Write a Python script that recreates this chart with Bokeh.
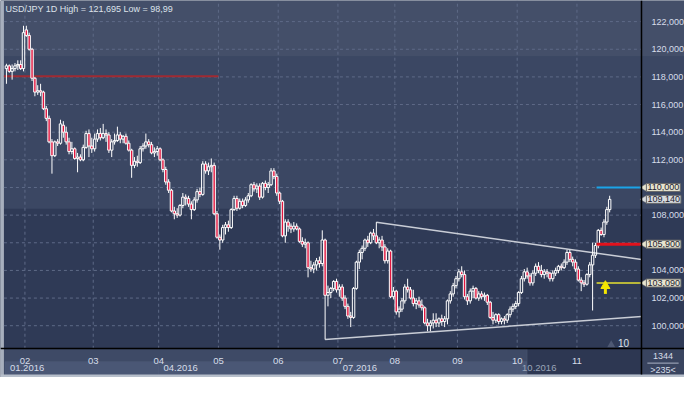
import numpy as np
from bokeh.plotting import figure
from bokeh.models import Range1d, FixedTicker, BoxAnnotation, Label, ColumnDataSource
from bokeh.embed import file_html
from bokeh.resources import INLINE

title_text = "USD/JPY 1D High = 121,695 Low = 98,99"

open_ = [118.6, 118.8, 118.4, 118.6, 118.8, 118.9, 118.6, 121.4, 121.0, 120.0,
         117.9, 116.9, 117.0, 116.9, 115.7, 115.0, 113.3, 112.3, 113.3, 113.2,
         114.5, 114.0, 113.3, 112.6, 112.8, 112.1, 112.2, 112.0, 112.9, 113.9,
         113.0, 112.8, 113.5, 113.9, 113.6, 113.9, 113.8, 112.7, 113.3, 113.4,
         113.8, 113.5, 113.7, 113.2, 112.7, 111.6, 111.9, 111.8, 112.8, 113.0,
         113.3, 113.1, 112.5, 112.6, 112.8, 112.0, 111.3, 110.4, 109.8, 108.3,
         108.1, 108.0, 108.7, 109.3, 109.2, 108.8, 108.4, 109.1, 109.7, 109.5,
         111.7, 111.2, 111.5, 111.6, 108.1, 106.4, 106.2, 107.1, 107.3, 107.1,
         108.4, 109.2, 108.5, 109.0, 108.7, 109.1, 109.4, 110.2, 109.9, 110.1,
         109.3, 110.3, 110.0, 110.2, 111.2, 110.8, 109.6, 109.0, 106.5, 107.5,
         107.2, 107.0, 107.2, 107.0, 106.1, 105.9, 106.0, 104.2, 104.1, 104.4,
         104.7, 104.5, 106.2, 102.2, 102.4, 102.7, 103.2, 102.6, 102.8, 102.0,
         101.4, 100.7, 100.6, 102.7, 104.6, 105.3, 105.6, 106.2, 106.0, 106.7,
         106.5, 106.0, 106.2, 105.7, 104.7, 105.4, 102.1, 102.5, 101.0, 101.2,
         101.8, 102.8, 102.6, 102.0, 101.6, 101.8, 101.5, 101.3, 100.2, 100.0,
         100.2, 100.4, 100.2, 100.5, 100.3, 100.5, 101.8, 102.3, 102.9, 103.4,
         103.9, 103.7, 102.1, 101.8, 102.5, 102.7, 102.0, 102.3, 102.1, 102.2,
         101.7, 100.6, 100.4, 100.8, 100.3, 100.5, 100.4, 100.8, 101.2, 101.4,
         101.6, 102.4, 103.4, 103.9, 103.6, 103.1, 103.8, 104.3, 104.0, 103.7,
         103.9, 103.8, 103.4, 103.8, 104.0, 104.3, 104.2, 104.6, 105.3, 104.8,
         104.6, 104.1, 103.3, 103.1, 103.0, 103.7, 104.4, 105.1, 105.8, 106.9,
         106.6, 107.5, 108.4]
high = [118.95, 118.9, 118.9, 119.0, 119.2, 119.2, 121.7, 121.7, 121.2, 120.1,
        118.0, 117.4, 117.5, 117.0, 115.9, 115.2, 113.5, 113.4, 113.5, 114.9,
        114.8, 114.4, 113.6, 113.3, 112.9, 112.5, 112.4, 113.1, 114.1, 114.2,
        113.6, 113.9, 114.2, 114.3, 114.6, 114.2, 114.0, 113.5, 113.9, 114.4,
        114.0, 113.8, 113.9, 113.4, 112.8, 112.2, 112.3, 113.0, 113.2, 113.9,
        113.5, 113.3, 112.9, 113.0, 112.9, 112.1, 111.5, 110.6, 109.9, 108.6,
        108.5, 108.8, 109.6, 109.5, 109.4, 109.0, 109.3, 109.9, 110.0, 111.9,
        111.9, 111.8, 112.1, 111.8, 108.3, 106.6, 107.3, 107.5, 107.6, 108.5,
        109.4, 109.4, 109.2, 109.2, 109.3, 109.6, 110.3, 110.4, 110.3, 110.3,
        110.4, 110.5, 110.4, 111.4, 111.4, 111.0, 109.7, 109.1, 107.7, 107.7,
        107.4, 107.5, 107.4, 107.1, 106.4, 106.3, 106.1, 104.7, 104.6, 104.9,
        105.0, 106.9, 106.3, 102.9, 102.8, 103.3, 103.4, 103.0, 103.0, 102.2,
        101.6, 101.0, 102.8, 104.7, 105.5, 105.8, 106.3, 106.5, 106.8, 107.0,
        107.49, 106.4, 106.5, 105.9, 105.6, 105.5, 102.8, 102.6, 101.4, 102.0,
        103.0, 103.4, 102.8, 102.6, 102.0, 102.1, 101.9, 101.4, 100.5, 100.4,
        100.9, 100.9, 100.6, 100.8, 100.7, 101.9, 102.5, 103.1, 103.6, 104.1,
        104.3, 104.0, 102.3, 102.7, 102.9, 102.8, 102.5, 102.5, 102.4, 102.3,
        101.8, 101.0, 100.9, 100.9, 100.6, 100.7, 100.9, 101.4, 101.6, 101.8,
        102.5, 103.6, 104.1, 104.2, 103.8, 104.0, 104.5, 104.6, 104.4, 104.1,
        104.1, 103.9, 104.0, 104.2, 104.4, 104.5, 104.8, 105.5, 105.5, 105.0,
        104.8, 104.3, 103.5, 103.3, 103.8, 104.6, 106.0, 106.0, 107.0, 107.1,
        107.7, 108.6, 109.4]
low = [117.5, 118.3, 117.8, 118.4, 118.5, 118.5, 118.4, 120.9, 119.9, 117.7,
       116.6, 116.7, 116.6, 115.6, 114.8, 113.2, 111.0, 112.2, 113.0, 113.1,
       113.6, 113.1, 112.4, 112.4, 112.0, 111.1, 111.9, 111.9, 112.8, 112.2,
       112.5, 112.6, 113.3, 113.4, 113.5, 113.3, 112.5, 112.2, 113.1, 113.3,
       113.2, 113.2, 113.1, 112.6, 110.7, 111.4, 111.5, 111.7, 112.6, 112.8,
       112.9, 112.4, 112.2, 112.3, 111.9, 111.1, 110.2, 109.6, 108.2, 107.7,
       107.8, 107.9, 108.5, 108.7, 108.6, 107.7, 108.3, 108.9, 109.3, 109.4,
       111.0, 110.9, 111.1, 108.0, 106.3, 105.5, 106.0, 106.6, 106.8, 107.0,
       108.3, 108.3, 108.4, 108.5, 108.6, 108.9, 109.3, 109.7, 109.6, 109.1,
       109.2, 109.8, 109.6, 110.1, 110.6, 109.4, 108.8, 106.4, 106.0, 106.8,
       106.7, 106.8, 106.9, 106.0, 105.7, 105.6, 103.5, 103.9, 103.8, 104.0,
       104.2, 104.3, 99.0, 101.4, 102.0, 102.5, 102.4, 102.1, 101.8, 101.2,
       100.5, 99.9, 100.5, 102.6, 104.1, 104.8, 105.4, 105.7, 105.9, 106.2,
       105.9, 105.6, 105.4, 104.5, 104.5, 102.0, 101.9, 100.8, 100.6, 101.0,
       101.6, 102.4, 101.9, 101.4, 101.2, 101.3, 101.1, 100.1, 99.6, 99.6,
       99.8, 99.9, 99.9, 100.0, 99.9, 100.1, 101.6, 102.1, 102.7, 103.2,
       103.5, 101.9, 101.5, 101.6, 102.0, 101.9, 101.8, 101.9, 101.8, 101.5,
       100.5, 100.1, 100.2, 100.1, 100.1, 100.1, 100.2, 100.6, 101.0, 101.2,
       101.4, 102.3, 103.2, 103.4, 102.9, 102.9, 103.6, 103.8, 103.5, 103.4,
       103.5, 103.2, 103.2, 103.6, 103.8, 104.0, 104.1, 104.4, 104.6, 104.3,
       103.9, 103.2, 102.5, 102.8, 102.9, 103.5, 101.1, 104.9, 105.6, 106.5,
       106.4, 107.3, 108.2]
close = [118.8, 118.4, 118.6, 118.8, 118.9, 118.6, 121.2, 121.0, 120.0, 117.9,
         116.9, 117.0, 116.9, 115.7, 115.0, 113.3, 112.3, 113.3, 113.2, 114.6,
         114.0, 113.3, 112.6, 112.8, 112.1, 112.2, 112.0, 112.9, 113.9, 113.0,
         112.8, 113.5, 113.9, 113.6, 113.9, 113.8, 112.7, 113.3, 113.4, 113.8,
         113.5, 113.7, 113.2, 112.7, 111.6, 111.9, 111.8, 112.8, 113.0, 113.3,
         113.1, 112.5, 112.6, 112.8, 112.0, 111.3, 110.4, 109.8, 108.3, 108.1,
         108.0, 108.7, 109.3, 109.2, 108.8, 108.4, 109.1, 109.7, 109.5, 111.7,
         111.2, 111.5, 111.6, 108.1, 106.4, 106.2, 107.1, 107.3, 107.1, 108.4,
         109.2, 108.5, 109.0, 108.7, 109.1, 109.4, 110.2, 109.9, 110.1, 109.3,
         110.3, 110.0, 110.2, 111.2, 110.8, 109.6, 109.0, 106.5, 107.5, 107.2,
         107.0, 107.2, 107.0, 106.1, 105.9, 106.0, 104.2, 104.1, 104.4, 104.7,
         104.5, 106.2, 102.2, 102.4, 102.7, 103.2, 102.6, 102.8, 102.0, 101.4,
         100.7, 100.6, 102.7, 104.6, 105.3, 105.6, 106.2, 106.0, 106.7, 106.5,
         106.0, 106.2, 105.7, 104.7, 105.4, 102.1, 102.5, 101.0, 101.2, 101.8,
         102.8, 102.6, 102.0, 101.6, 101.8, 101.5, 101.3, 100.2, 100.0, 100.2,
         100.4, 100.2, 100.5, 100.3, 100.5, 101.8, 102.3, 102.9, 103.4, 103.9,
         103.7, 102.1, 101.8, 102.5, 102.7, 102.0, 102.3, 102.1, 102.2, 101.7,
         100.6, 100.4, 100.8, 100.3, 100.5, 100.4, 100.8, 101.2, 101.4, 101.6,
         102.4, 103.4, 103.9, 103.6, 103.1, 103.8, 104.3, 104.0, 103.7, 103.9,
         103.8, 103.4, 103.8, 104.0, 104.3, 104.2, 104.6, 105.3, 104.8, 104.6,
         104.1, 103.3, 103.1, 103.0, 103.7, 104.4, 105.1, 105.8, 106.9, 106.6,
         107.5, 108.4, 109.14]

month_pos = [6.5, 30.5, 53.5, 74.5, 95.5, 116.5, 136.5, 158.5, 179.5, 200.5]
month_labels = ["02", "03", "04", "05", "06", "07", "08", "09", "10", "11"]
quarter_pos = [-0.5, 53.5, 116.5, 179.5]
quarter_labels = ["01.2016", "04.2016", "07.2016", "10.2016"]
y_ticks = [100, 102, 104, 106, 108, 110, 112, 114, 116, 118, 120, 122]
y_tick_labels = ["100,000", "102,000", "104,000", "", "108,000", "",
                 "112,000", "114,000", "116,000", "118,000", "120,000", "122,000"]
tag_values = [110.0, 109.14, 105.9, 103.09]
tag_labels = ["110,000", "109,140", "105,900", "103,090"]
tag_fills = ["#e7e4cf", "#d6dade", "#e7e4cf", "#e7e4cf"]
level_values = [110.0, 105.9, 103.09]
level_colors = ["#1ba4e8", "#e3121c", "#b8b73a"]
level_widths = [2, 3, 2]
level_start = 207.4
old_level = 118.05
old_level_end = 74.5
upper_trend_x = [130.0, 223.2]
upper_trend_y = [107.49, 104.79]
lower_trend_x = [112.0, 223.2]
lower_trend_y = [99.0, 100.66]
arrow_x = 210.5
arrow_shaft = [102.3, 102.75]
arrow_head = 102.88
overlay_start = 183.0
bottom_right_texts = ["1344", ">235<"]
corner_label = "10"

# ---- geometry: ranges are laid out on a 700x393 design grid, drawn at 684x377
REF_W, REF_H = 700, 393
W, H = 684, 377
KX = 2.912            # design px per bar
KY = 14.41            # design px per yen
X0 = month_pos[0] - 25 / KX
X1 = X0 + REF_W / KX
Y1 = 122 + 22 / KY
Y0 = Y1 - REF_H / KY


def fx(px):
    return X0 + px / KX


def fy(py):
    return Y1 - py / KY


XR = fx(656)          # right edge of price area
YB = fy(363)          # bottom edge of price area

o = np.array(open_)
h = np.array(high)
l = np.array(low)
c = np.array(close)
idx = np.arange(len(c))
top = np.maximum(o, c)
bot = np.minimum(o, c)
bull = c >= o

p = figure(width=W, height=H, x_range=Range1d(X0, X1), y_range=Range1d(Y0, Y1),
           output_backend="svg", toolbar_location=None, y_axis_location="right",
           min_border_left=0, min_border_right=0, min_border_top=0, min_border_bottom=0,
           background_fill_color="#3e4a66", border_fill_color="#3e4a66")
p.outline_line_color = None
p.xgrid.visible = False
p.ygrid.visible = False


def box(left, right, top_, bottom, color, line=None):
    p.add_layout(BoxAnnotation(left=left, right=right, top=top_, bottom=bottom,
                               fill_color=color, fill_alpha=1, line_color=line,
                               line_width=1, level="image"))


# background bands
box(X0, X1, Y1, 119.5, "#444f69")
box(X0, X1, 119.5, 108.47, "#3b4763")
box(X0, X1, 108.47, YB, "#2f3a56")
# bottom rows
q_edges = quarter_pos + [XR]
for k in range(len(quarter_pos)):
    box(q_edges[k], q_edges[k + 1], fy(376.5), fy(390), "#4a5775", "#5b6884")
box(overlay_start, XR, YB, fy(390), "#2d3752", "#56627e")
box(XR, X1, YB, fy(390), "#39445f")
box(X0, fx(3.5), Y1, Y0, "#a7afbd")
box(X0, X1, fy(390), Y0, "#b7bfcb")

# grid lines, limited to the price area
p.segment(x0=month_pos, x1=month_pos, y0=[YB] * len(month_pos), y1=[Y1] * len(month_pos),
          line_color="#5e6a87", line_dash="3 3", line_width=1)
p.segment(x0=[fx(3.5)] * len(y_ticks), x1=[XR] * len(y_ticks), y0=y_ticks, y1=y_ticks,
          line_color="#5e6a87", line_dash="3 3", line_width=1)

# axes drawn at fixed locations inside the canvas
yax = p.yaxis[0]
yax.fixed_location = XR
yax.bounds = (fy(390), Y1)
yax.ticker = FixedTicker(ticks=y_ticks)
yax.major_label_overrides = {t: s for t, s in zip(y_ticks, y_tick_labels)}
yax.major_label_standoff = 4
xax = p.xaxis[0]
xax.fixed_location = YB
xax.bounds = (X0, X1)
xax.ticker = FixedTicker(ticks=month_pos)
xax.major_label_overrides = {t: s for t, s in zip(month_pos, month_labels)}
xax.major_label_standoff = 3
for ax in (xax, yax):
    ax.major_tick_line_color = None
    ax.minor_tick_line_color = None
    ax.axis_line_color = "black"
    ax.axis_line_width = 1.5
    ax.major_label_text_color = "#d6dde9"
    ax.major_label_text_font = "Liberation Sans"
    ax.major_label_text_font_size = "9px"
xax.major_label_text_font_size = "9.5px"

# old red level
p.segment(x0=[fx(3.5)], x1=[old_level_end], y0=[old_level], y1=[old_level], line_color="#a02a32", line_width=2)

# trend lines
p.line(upper_trend_x, upper_trend_y, line_color="#c9cdd6", line_width=1.5)
p.line(lower_trend_x, lower_trend_y, line_color="#c9cdd6", line_width=1.5)

# candles
p.segment(x0=idx, x1=idx, y0=top, y1=h, line_color="white", line_width=1)
p.segment(x0=idx, x1=idx, y0=l, y1=bot, line_color="white", line_width=1)
src_bull = ColumnDataSource(dict(x=idx[bull], t=top[bull], b=bot[bull]))
src_bear = ColumnDataSource(dict(x=idx[~bull], t=top[~bull], b=bot[~bull]))
p.vbar(x="x", top="t", bottom="b", width=0.85, source=src_bull, fill_alpha=0,
       line_color="white", line_width=1)
p.vbar(x="x", top="t", bottom="b", width=0.85, source=src_bear, fill_color="#e2163f",
       line_color="white", line_width=1)

# right side levels
p.segment(x0=[level_start] * 3, x1=[XR] * 3, y0=level_values, y1=level_values,
          line_color=level_colors, line_width=level_widths)

# yellow arrow
p.segment(x0=[arrow_x], x1=[arrow_x], y0=[arrow_shaft[0]], y1=[arrow_shaft[1]], line_color="#f4e600", line_width=3)
p.scatter(x=[arrow_x], y=[arrow_head], marker="triangle", size=9, fill_color="#f4e600", line_color="#f4e600")

# title and small corner marks
p.add_layout(Label(x=fx(5), y=fy(8.5), text=title_text, text_baseline="middle", text_font="Liberation Sans",
                   text_font_size="9px", text_color="#dde2ea"))
p.scatter(x=[fx(625)], y=[fy(359)], marker="triangle", size=8, fill_color="#4e5974", line_color=None)
p.add_layout(Label(x=fx(632), y=fy(357), text=corner_label, text_baseline="middle", text_font="Liberation Sans",
                   text_font_size="10px", text_color="#dde2ea"))

# price tags with small pointers
p.scatter(x=[fx(659)] * len(tag_values), y=tag_values, marker="triangle", angle=np.pi / 2, size=8,
          fill_color=tag_fills, line_color="#6a6a6a", line_width=0.5)
for v, s, f in zip(tag_values, tag_labels, tag_fills):
    p.add_layout(Label(x=fx(661), y=v, text=s, text_baseline="middle", text_font="Liberation Sans",
                       text_font_size="9px", text_color="#1b2030", background_fill_color=f,
                       border_line_color="#6a6a6a", padding=1))

# date row labels
for qp, s in zip(quarter_pos, quarter_labels):
    col = "#9aa5b8" if qp >= overlay_start - 10 else "#d6dde9"
    p.add_layout(Label(x=max(qp, fx(4)) + 5 / KX, y=fy(383), text=s, text_baseline="middle",
                       text_font="Liberation Sans", text_font_size="9.5px", text_color=col))

# bottom-right cell
p.add_layout(Label(x=fx(678), y=fy(371), text=bottom_right_texts[0], text_align="center",
                   text_baseline="middle", text_font="Liberation Sans", text_font_size="9px", text_color="#d6dde9"))
p.add_layout(Label(x=fx(678), y=fy(385), text=bottom_right_texts[1], text_align="center",
                   text_baseline="middle", text_font="Liberation Sans", text_font_size="9px", text_color="#d6dde9"))
p.segment(x0=[fx(662)], x1=[fx(694)], y0=[fy(378)], y1=[fy(378)], line_color="#aab3c4", line_width=1)

open("out.html", "w").write(file_html(p, INLINE))
